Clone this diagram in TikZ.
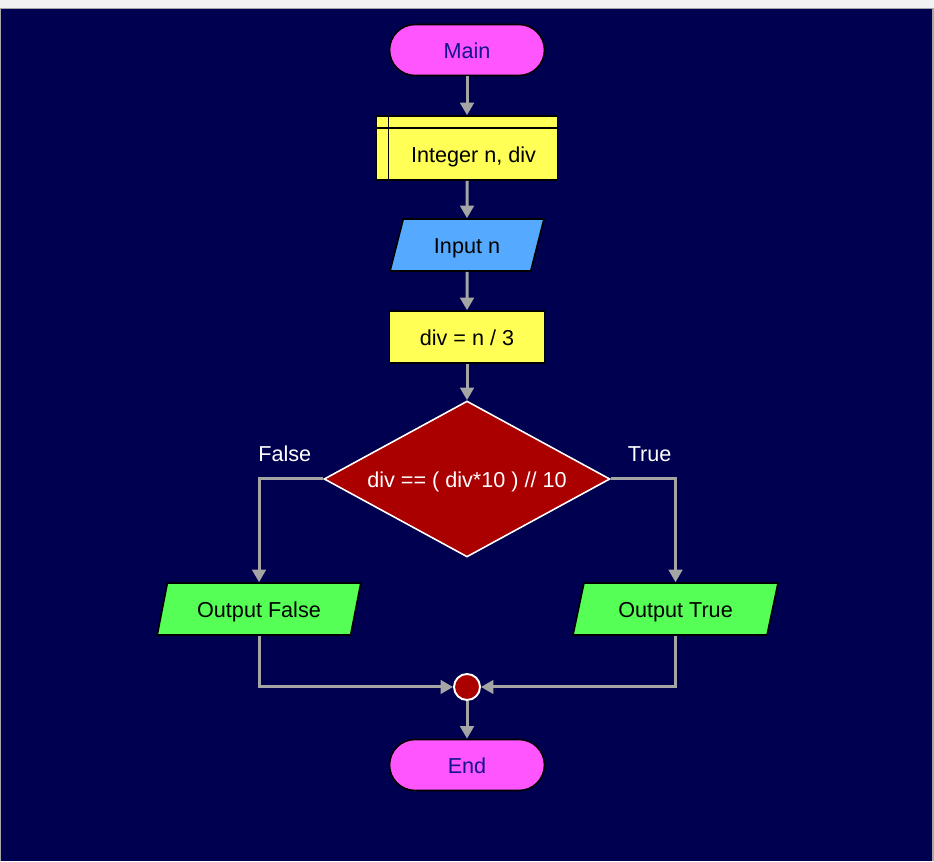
\documentclass[tikz,border=0pt]{standalone}
\usepackage{fontspec}
\setmainfont{Liberation Sans}
\usetikzlibrary{shapes.geometric,arrows.meta}

\definecolor{navybg}{RGB}{0,0,80}
\definecolor{termfill}{RGB}{255,85,255}
\definecolor{termtext}{RGB}{20,20,140}
\definecolor{procfill}{RGB}{255,255,85}
\definecolor{infill}{RGB}{85,170,255}
\definecolor{outfill}{RGB}{85,255,85}
\definecolor{decfill}{RGB}{170,0,0}
\definecolor{flowgray}{RGB}{165,165,165}
\newcommand{\chartfont}{\fontsize{12.3}{14.7}\selectfont}

\begin{document}
\begin{tikzpicture}[x=0.02cm, y=-0.02cm,
    every node/.style={font=\chartfont, text height=0.92em, text depth=0pt},
    term/.style={rectangle, rounded corners=0.51cm, draw=black, line width=0.9pt, fill=termfill, text=termtext, minimum width=3.1cm, minimum height=1.02cm, inner sep=0pt},
    proc/.style={rectangle, draw=black, line width=0.9pt, fill=procfill, minimum width=3.1cm, minimum height=1.04cm, inner sep=0pt},
    store/.style={proc, minimum width=3.62cm, minimum height=1.28cm,
        path picture={
            \draw[line width=0.9pt] ([xshift=0.24cm]path picture bounding box.north west) -- ([xshift=0.24cm]path picture bounding box.south west);
            \draw[line width=0.9pt] ([yshift=-0.24cm]path picture bounding box.north west) -- ([yshift=-0.24cm]path picture bounding box.north east);}},
    io/.style={trapezium, trapezium left angle=67, trapezium right angle=113, trapezium stretches=true, draw=black, line width=0.9pt, fill=#1, minimum height=1.04cm, inner sep=0pt},
    decision/.style={diamond, aspect=1.83, draw=white, line width=0.9pt, fill=decfill, text=white, minimum width=5.72cm, minimum height=3.12cm, inner sep=0pt},
    joint/.style={circle, draw=white, line width=1.1pt, fill=decfill, minimum size=0.52cm, inner sep=0pt},
    flow/.style={draw=flowgray, line width=1.7pt, -{Triangle[length=0.25cm,width=0.27cm]}},
    branch/.style={text=white, above=0.2cm}]

    \fill[navybg] (0,0) rectangle (934,861);
    \fill[gray!10] (0,0) rectangle (934,8);
    \draw[gray!70, line width=0.6pt] (0.5,8.5) -- (933,8.5) -- (933,861);
    \draw[gray!70, line width=0.6pt] (0.5,8.5) -- (0.5,861);

    \node[term] (main) at (467,50) {Main};
    \node[store, label={[xshift=0.13cm, yshift=-0.12cm, font=\chartfont]center:Integer n, div}] (vars) at (467,148) {};
    \node[io=infill, minimum width=3.08cm] (inp) at (467,245) {Input n};
    \node[proc] (calc) at (467,337) {div = n / 3};
    \node[decision] (test) at (467,479) {div == ( div*10 ) // 10};
    \node[io=outfill, minimum width=4.1cm] (outf) at (259,609) {Output False};
    \node[io=outfill, minimum width=4.1cm] (outt) at (675.5,609) {Output True};
    \node[joint] (join) at (467,687) {};
    \node[term] (end) at (467,765) {End};

    \draw[flow] (main) -- (vars);
    \draw[flow] (vars) -- (inp);
    \draw[flow] (inp) -- (calc);
    \draw[flow] (calc) -- (test);
    \draw[flow] (test.west) -| node[branch, pos=0.3] {False} (outf);
    \draw[flow] (test.east) -| node[branch, pos=0.3] {True} (outt);
    \draw[flow] (outf) |- (join);
    \draw[flow] (outt) |- (join);
    \draw[flow] (join) -- (end);
\end{tikzpicture}
\end{document}
